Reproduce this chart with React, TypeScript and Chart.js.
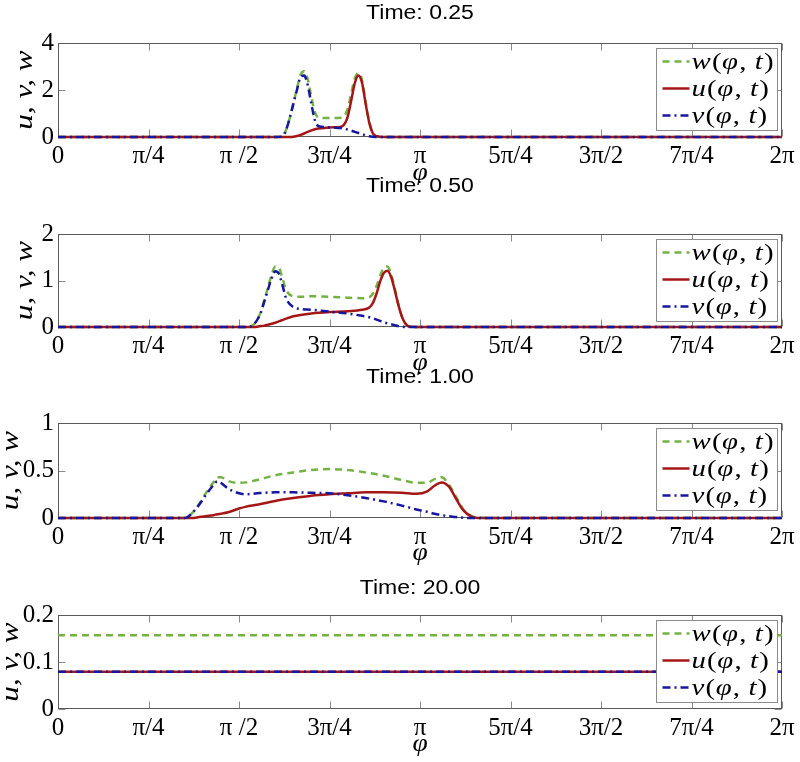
import React, { useEffect, useRef } from 'react';
import { Chart, registerables } from 'chart.js';
Chart.register(...registerables);

// ---------------- data (φ expressed in units of π) ----------------
const xTickValues = [0, 0.25, 0.5, 0.75, 1, 1.25, 1.5, 1.75, 2];
const xTickLabels = ['0', 'π/4', 'π /2', '3π/4', 'π', '5π/4', '3π/2', '7π/4', '2π'];
const panelTitles = ['Time: 0.25', 'Time: 0.50', 'Time: 1.00', 'Time: 20.00'];
const seriesNames = ['w', 'u', 'v'];
const yAxisTitle = 'u, v, w';
const xAxisTitle = 'φ';

// t = 0.25
const phi1 = [0, 0.60, 0.62, 0.63, 0.64, 0.65, 0.66, 0.67, 0.68, 0.69, 0.70, 0.71, 0.72, 0.74, 0.76, 0.78, 0.79, 0.80, 0.81, 0.82, 0.83, 0.84, 0.85, 0.86, 0.87, 0.88, 0.90, 2.0];
const w1 = [0, 0, 0.02, 0.3, 0.8, 1.42, 2.05, 2.65, 2.8, 2.45, 1.7, 1.05, 0.82, 0.81, 0.81, 0.82, 0.88, 1.2, 1.85, 2.5, 2.72, 2.42, 1.48, 0.63, 0.16, 0.03, 0, 0];
const u1 = [0, 0, 0, 0, 0, 0.01, 0.04, 0.09, 0.15, 0.22, 0.28, 0.33, 0.36, 0.39, 0.41, 0.43, 0.52, 0.85, 1.55, 2.3, 2.62, 2.3, 1.4, 0.6, 0.15, 0.03, 0, 0];
const v1 = [0, 0, 0.02, 0.3, 0.8, 1.4, 2.0, 2.55, 2.62, 2.2, 1.4, 0.7, 0.46, 0.42, 0.40, 0.38, 0.35, 0.32, 0.27, 0.22, 0.17, 0.12, 0.07, 0.03, 0.01, 0, 0, 0];
const yTicks1 = [0, 2, 4];
const yTickLabels1 = ['0', '2', '4'];

// t = 0.50
const phi2 = [0, 0.52, 0.54, 0.56, 0.57, 0.58, 0.59, 0.60, 0.61, 0.62, 0.63, 0.65, 0.67, 0.70, 0.75, 0.80, 0.84, 0.86, 0.87, 0.88, 0.89, 0.90, 0.91, 0.92, 0.93, 0.94, 0.95, 0.96, 0.97, 1.0, 2.0];
const w2 = [0, 0, 0.05, 0.32, 0.58, 0.85, 1.12, 1.3, 1.28, 1.05, 0.8, 0.66, 0.65, 0.66, 0.65, 0.63, 0.62, 0.64, 0.72, 0.88, 1.11, 1.27, 1.30, 1.14, 0.84, 0.5, 0.23, 0.07, 0.01, 0, 0];
const u2 = [0, 0, 0, 0.02, 0.03, 0.05, 0.07, 0.09, 0.12, 0.15, 0.18, 0.23, 0.26, 0.29, 0.32, 0.34, 0.37, 0.42, 0.52, 0.72, 0.98, 1.16, 1.21, 1.08, 0.8, 0.48, 0.22, 0.07, 0.01, 0, 0];
const v2 = [0, 0, 0.05, 0.3, 0.55, 0.8, 1.05, 1.2, 1.15, 0.9, 0.62, 0.43, 0.39, 0.37, 0.33, 0.29, 0.24, 0.21, 0.19, 0.16, 0.13, 0.10, 0.08, 0.06, 0.04, 0.02, 0.01, 0, 0, 0, 0];
const yTicks2 = [0, 1, 2];
const yTickLabels2 = ['0', '1', '2'];

// t = 1.00
const phi3 = [0, 0.35, 0.37, 0.39, 0.41, 0.43, 0.44, 0.45, 0.47, 0.50, 0.52, 0.55, 0.60, 0.65, 0.70, 0.75, 0.80, 0.85, 0.90, 0.95, 0.99, 1.02, 1.04, 1.06, 1.08, 1.10, 1.12, 1.14, 1.16, 1.2, 2.0];
const w3 = [0, 0, 0.05, 0.15, 0.27, 0.38, 0.43, 0.43, 0.39, 0.37, 0.375, 0.40, 0.45, 0.48, 0.505, 0.515, 0.505, 0.48, 0.445, 0.40, 0.37, 0.37, 0.41, 0.43, 0.35, 0.22, 0.09, 0.025, 0.003, 0, 0];
const u3 = [0, 0, 0, 0.01, 0.02, 0.03, 0.04, 0.045, 0.06, 0.10, 0.12, 0.14, 0.18, 0.21, 0.235, 0.25, 0.26, 0.27, 0.27, 0.265, 0.255, 0.28, 0.34, 0.375, 0.33, 0.2, 0.08, 0.02, 0, 0, 0];
const v3 = [0, 0, 0.05, 0.14, 0.25, 0.35, 0.385, 0.37, 0.31, 0.26, 0.25, 0.26, 0.27, 0.27, 0.265, 0.26, 0.24, 0.21, 0.175, 0.13, 0.09, 0.065, 0.045, 0.03, 0.02, 0.01, 0.003, 0, 0, 0, 0];
const yTicks3 = [0, 0.5, 1];
const yTickLabels3 = ['0', '0.5', '1'];

// t = 20.00
const phi4 = [0, 0.5, 1.0, 1.5, 2.0];
const w4 = [0.157, 0.157, 0.157, 0.157, 0.157];
const u4 = [0.079, 0.079, 0.079, 0.079, 0.079];
const v4 = [0.079, 0.079, 0.079, 0.079, 0.079];
const yTicks4 = [0, 0.1, 0.2];
const yTickLabels4 = ['0', '0.1', '0.2'];

const panels = [
  { phi: phi1, w: w1, u: u1, v: v1, yTicks: yTicks1, yLabels: yTickLabels1 },
  { phi: phi2, w: w2, u: u2, v: v2, yTicks: yTicks2, yLabels: yTickLabels2 },
  { phi: phi3, w: w3, u: u3, v: v3, yTicks: yTicks3, yLabels: yTickLabels3 },
  { phi: phi4, w: w4, u: u4, v: v4, yTicks: yTicks4, yLabels: yTickLabels4 },
];

// ---------------- layout & style ----------------
const W = 800;
const H = 762;
const PLOT_LEFT = 58;
const PLOT_RIGHT = 782;
const X_AXIS_H = 30;
const FRAME = [
  { top: 43, bottom: 137, titleY: 13, phiY: 173, yTitleX: 25 },
  { top: 234, bottom: 327, titleY: 186, phiY: 363, yTitleX: 25 },
  { top: 423, bottom: 518, titleY: 377, phiY: 553, yTitleX: 11 },
  { top: 615, bottom: 709, titleY: 588, phiY: 744, yTitleX: 11 },
];
const GREEN = '#74b245';
const RED = '#a51717';
const BLUE = '#16169e';
const SERIF = '"Liberation Serif", "DejaVu Serif", serif';
const SANS = '"Liberation Sans", Arial, sans-serif';
const STYLE: Record<string, { color: string; dash: number[] }> = {
  w: { color: GREEN, dash: [7, 5] },
  u: { color: RED, dash: [] },
  v: { color: BLUE, dash: [8, 4, 2, 4] },
};

function scaledText(ctx: CanvasRenderingContext2D, text: string, x: number, y: number, font: string, sx: number, rot = 0) {
  ctx.save();
  ctx.font = font;
  ctx.fillStyle = '#000';
  ctx.textAlign = 'center';
  ctx.textBaseline = 'middle';
  ctx.translate(x, y);
  if (rot) ctx.rotate(rot);
  ctx.scale(sx, 1);
  ctx.fillText(text, 0, 0);
  ctx.restore();
}

function drawLegend(ctx: CanvasRenderingContext2D, a: any) {
  const bw = 121;
  const bh = 82;
  const bx = Math.round(a.right - 5 - bw) + 0.5;
  const by = Math.round(a.top + 5) + 0.5;
  ctx.save();
  ctx.fillStyle = '#fff';
  ctx.fillRect(bx, by, bw, bh);
  ctx.strokeStyle = '#8c8c8c';
  ctx.lineWidth = 1;
  ctx.setLineDash([]);
  ctx.strokeRect(bx, by, bw, bh);
  const italic = 'italic 24px ' + SERIF;
  const upright = '24px ' + SERIF;
  seriesNames.forEach((name, i) => {
    const y = by + 13 + i * 27;
    const st = STYLE[name];
    ctx.strokeStyle = st.color;
    ctx.lineWidth = 2.5;
    ctx.setLineDash(st.dash);
    ctx.beginPath();
    ctx.moveTo(bx + 6, y);
    ctx.lineTo(bx + 33, y);
    ctx.stroke();
    ctx.setLineDash([]);
    const pieces: [string, boolean][] = [[name, true], ['(', false], ['φ', true], [',', false], [' ', false], ['t', true], [')', false]];
    ctx.save();
    ctx.translate(bx + 35, y + 7);
    ctx.scale(1.2, 1);
    ctx.fillStyle = '#000';
    ctx.textAlign = 'left';
    ctx.textBaseline = 'alphabetic';
    let x = 0;
    for (const [txt, it] of pieces) {
      ctx.font = it ? italic : upright;
      ctx.fillText(txt, x, 0);
      x += ctx.measureText(txt).width + (it ? 1 : 0.5);
    }
    ctx.restore();
  });
  ctx.restore();
}

function decorPlugin(i: number) {
  const f = FRAME[i];
  return {
    id: 'decor' + i,
    beforeDatasetsDraw(chart: any) {
      const { ctx, chartArea: a, scales } = chart;
      const L = Math.round(a.left) + 0.5;
      const R = Math.round(a.right) - 0.5;
      const T = Math.round(a.top) + 0.5;
      const B = Math.round(a.bottom) - 0.5;
      ctx.save();
      ctx.lineWidth = 1;
      ctx.strokeStyle = '#8a8a8a';
      ctx.beginPath();
      for (const v of xTickValues) {
        const px = Math.round(scales.x.getPixelForValue(v)) + 0.5;
        ctx.moveTo(px, B); ctx.lineTo(px, B - 7);
        ctx.moveTo(px, T); ctx.lineTo(px, T + 7);
      }
      for (const v of panels[i].yTicks) {
        const py = Math.round(scales.y.getPixelForValue(v)) + 0.5;
        ctx.moveTo(L, py); ctx.lineTo(L + 7, py);
        ctx.moveTo(R, py); ctx.lineTo(R - 7, py);
      }
      ctx.stroke();
      ctx.strokeStyle = '#5a5a5a';
      ctx.strokeRect(L, T, R - L, B - T);
      ctx.restore();
    },
    afterDatasetsDraw(chart: any) {
      drawLegend(chart.ctx, chart.chartArea);
    },
    afterDraw(chart: any) {
      const { ctx, chartArea: a, scales } = chart;
      const cx = (a.left + a.right) / 2;
      scaledText(ctx, panelTitles[i], cx, f.titleY, '20px ' + SANS, 1.15);
      scaledText(ctx, xAxisTitle, scales.x.getPixelForValue(1), f.phiY, 'italic 25px ' + SERIF, 1.1);
      scaledText(ctx, yAxisTitle, f.yTitleX, (a.top + a.bottom) / 2, 'italic 25px ' + SERIF, 1.25, -Math.PI / 2);
    },
  };
}

function buildConfig(i: number): any {
  const p = panels[i];
  const f = FRAME[i];
  const ds = (name: 'w' | 'u' | 'v', order: number) => ({
    label: name,
    data: p.phi.map((x, k) => ({ x, y: (p as any)[name][k] })),
    borderColor: STYLE[name].color,
    backgroundColor: STYLE[name].color,
    borderDash: STYLE[name].dash,
    borderWidth: 2.5,
    pointRadius: 0,
    fill: false,
    clip: 6,
    order,
  });
  return {
    type: 'line',
    data: { datasets: [ds('v', 1), ds('u', 2), ds('w', 3)] },
    options: {
      responsive: false,
      animation: false,
      devicePixelRatio: 1,
      events: [],
      layout: { padding: { left: 0, right: W - PLOT_RIGHT, top: f.top, bottom: H - f.bottom - X_AXIS_H } },
      elements: { point: { radius: 0 }, line: { cubicInterpolationMode: 'monotone', borderCapStyle: 'butt' } },
      plugins: { legend: { display: false }, tooltip: { enabled: false }, title: { display: false } },
      scales: {
        x: {
          type: 'linear', min: 0, max: 2,
          afterFit: (s: any) => { s.height = X_AXIS_H; },
          afterBuildTicks: (s: any) => { s.ticks = xTickValues.map((v) => ({ value: v })); },
          ticks: {
            autoSkip: false, maxRotation: 0, minRotation: 0, padding: 4, color: '#000',
            font: { family: SERIF, size: 25 },
            callback: (_v: any, idx: number) => xTickLabels[idx],
          },
          grid: { display: false, drawTicks: false },
          border: { display: false },
        },
        y: {
          type: 'linear', min: p.yTicks[0], max: p.yTicks[p.yTicks.length - 1],
          afterFit: (s: any) => { s.width = PLOT_LEFT; },
          afterBuildTicks: (s: any) => { s.ticks = p.yTicks.map((v) => ({ value: v })); },
          ticks: {
            autoSkip: false, padding: 4, color: '#000',
            font: { family: SERIF, size: 25 },
            callback: (_v: any, idx: number) => p.yLabels[idx],
          },
          grid: { display: false, drawTicks: false },
          border: { display: false },
        },
      },
    },
    plugins: [decorPlugin(i)],
  };
}

function Panel({ idx }: { idx: number }) {
  const ref = useRef<HTMLCanvasElement>(null);
  useEffect(() => {
    const chart = new Chart(ref.current as HTMLCanvasElement, buildConfig(idx));
    return () => chart.destroy();
  }, [idx]);
  return (
    <canvas
      ref={ref}
      width={W}
      height={H}
      style={{ position: 'absolute', left: 0, top: 0, width: W, height: H }}
    />
  );
}

export default function App() {
  return (
    <div style={{ position: 'absolute', left: 0, top: 0, width: W, height: H, background: '#fff' }}>
      {panels.map((_, i) => (
        <Panel key={i} idx={i} />
      ))}
    </div>
  );
}
